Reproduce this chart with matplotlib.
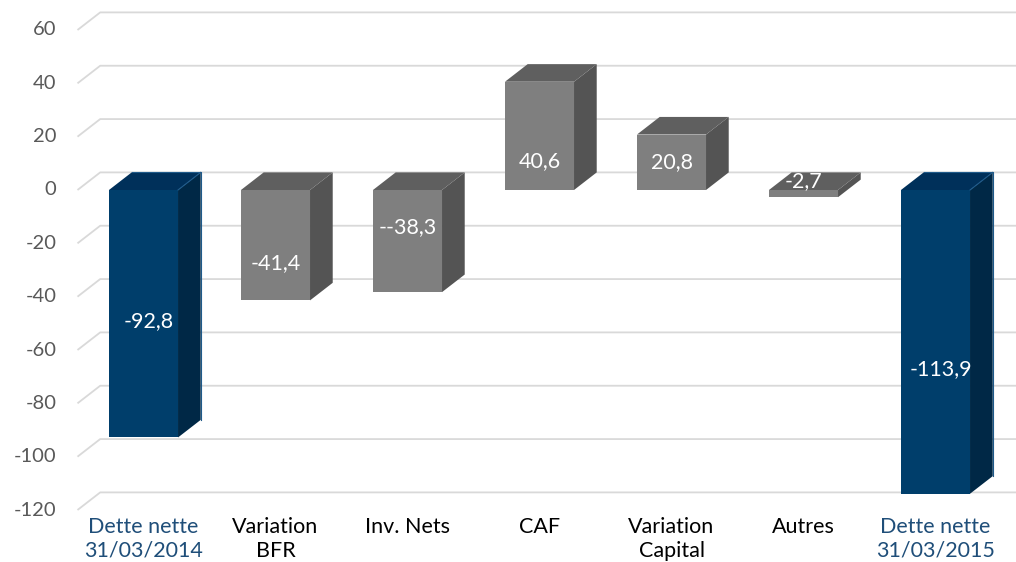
import numpy as np
import matplotlib
matplotlib.use("Agg")
from matplotlib import pyplot as plt
from matplotlib.patches import Polygon, Rectangle

plt.rcParams['font.family'] = ['Lato', 'DejaVu Sans']

# data
categories = ["Dette nette\n31/03/2014", "Variation\nBFR", "Inv. Nets", "CAF",
              "Variation\nCapital", "Autres", "Dette nette\n31/03/2015"]
values = [-92.8, -41.4, -38.3, 40.6, 20.8, -2.7, -113.9]
value_labels = ["-92,8", "-41,4", "--38,3", "40,6", "20,8", "-2,7", "-113,9"]
is_total = [True, False, False, False, False, False, True]
yticks = list(range(-120, 61, 20))

# 3d look: depth offset in data units
dx = 0.172
dy = 6.6
bw = 0.523

blue = dict(front="#003e6b", side="#002846", top="#00305a", text="#1f4e79")
gray = dict(front="#7f7f7f", side="#545454", top="#5f5f5f", text="black")

fig = plt.figure(figsize=(10.16, 5.62), dpi=100)
ax = fig.add_axes([77.5 / 1016, 52 / 562, 924 / 1016, 480 / 562])
ax.set_xlim(-0.5, 6.5)
ax.set_ylim(-120, 60)
ax.axis("off")

# gridlines on the back wall + slanted part on the left side
for t in yticks:
    ax.plot([-0.5, -0.5 + dx, 7.5], [t, t + dy, t + dy], color="#d9d9d9",
            lw=1.3, clip_on=False, zorder=1, solid_capstyle="butt")
    ax.text(-0.5 - 0.16, t, str(t), ha="right", va="center", fontsize=14.5,
            color="#595959")

for i, v in enumerate(values):
    c = blue if is_total[i] else gray
    x0, x1 = i - bw / 2, i + bw / 2
    top = max(v, 0)
    bot = min(v, 0)
    ax.add_patch(Rectangle((x0, bot), bw, top - bot, facecolor=c["front"],
                           edgecolor="none", zorder=3))
    ax.add_patch(Polygon([(x1, bot), (x1 + dx, bot + dy), (x1 + dx, top + dy), (x1, top)],
                         closed=True, facecolor=c["side"], edgecolor="none", zorder=3))
    ax.add_patch(Polygon([(x0, top), (x0 + dx, top + dy), (x1 + dx, top + dy), (x1, top)],
                         closed=True, facecolor=c["top"], edgecolor="none", zorder=3))
    if is_total[i]:
        ax.plot([x0 + dx, x1 + dx, x1 + dx], [top + dy, top + dy, bot + dy],
                color="#1f5a8a", lw=0.8, zorder=4, clip_on=False)
        ax.plot([x1, x1 + dx], [top, top + dy], color="#1f5a8a", lw=0.8, zorder=4)
    ly = v / 2 if abs(v) > 10 else 3.5
    if i == 1:
        ly = -27.5
    elif i == 2:
        ly = -14
    elif i == 3:
        ly = 11
    elif i == 6:
        ly = -67
    elif i == 0:
        ly = -49
    ax.text(i + (0.04 if is_total[i] else 0), ly, value_labels[i], ha="center",
            va="center", fontsize=15.5, color="white", zorder=5)
    ax.text(i, -122.8, categories[i], ha="center", va="top", fontsize=15.5,
            color=c["text"], linespacing=1.2, clip_on=False)

fig.savefig("out.png", dpi=100)
